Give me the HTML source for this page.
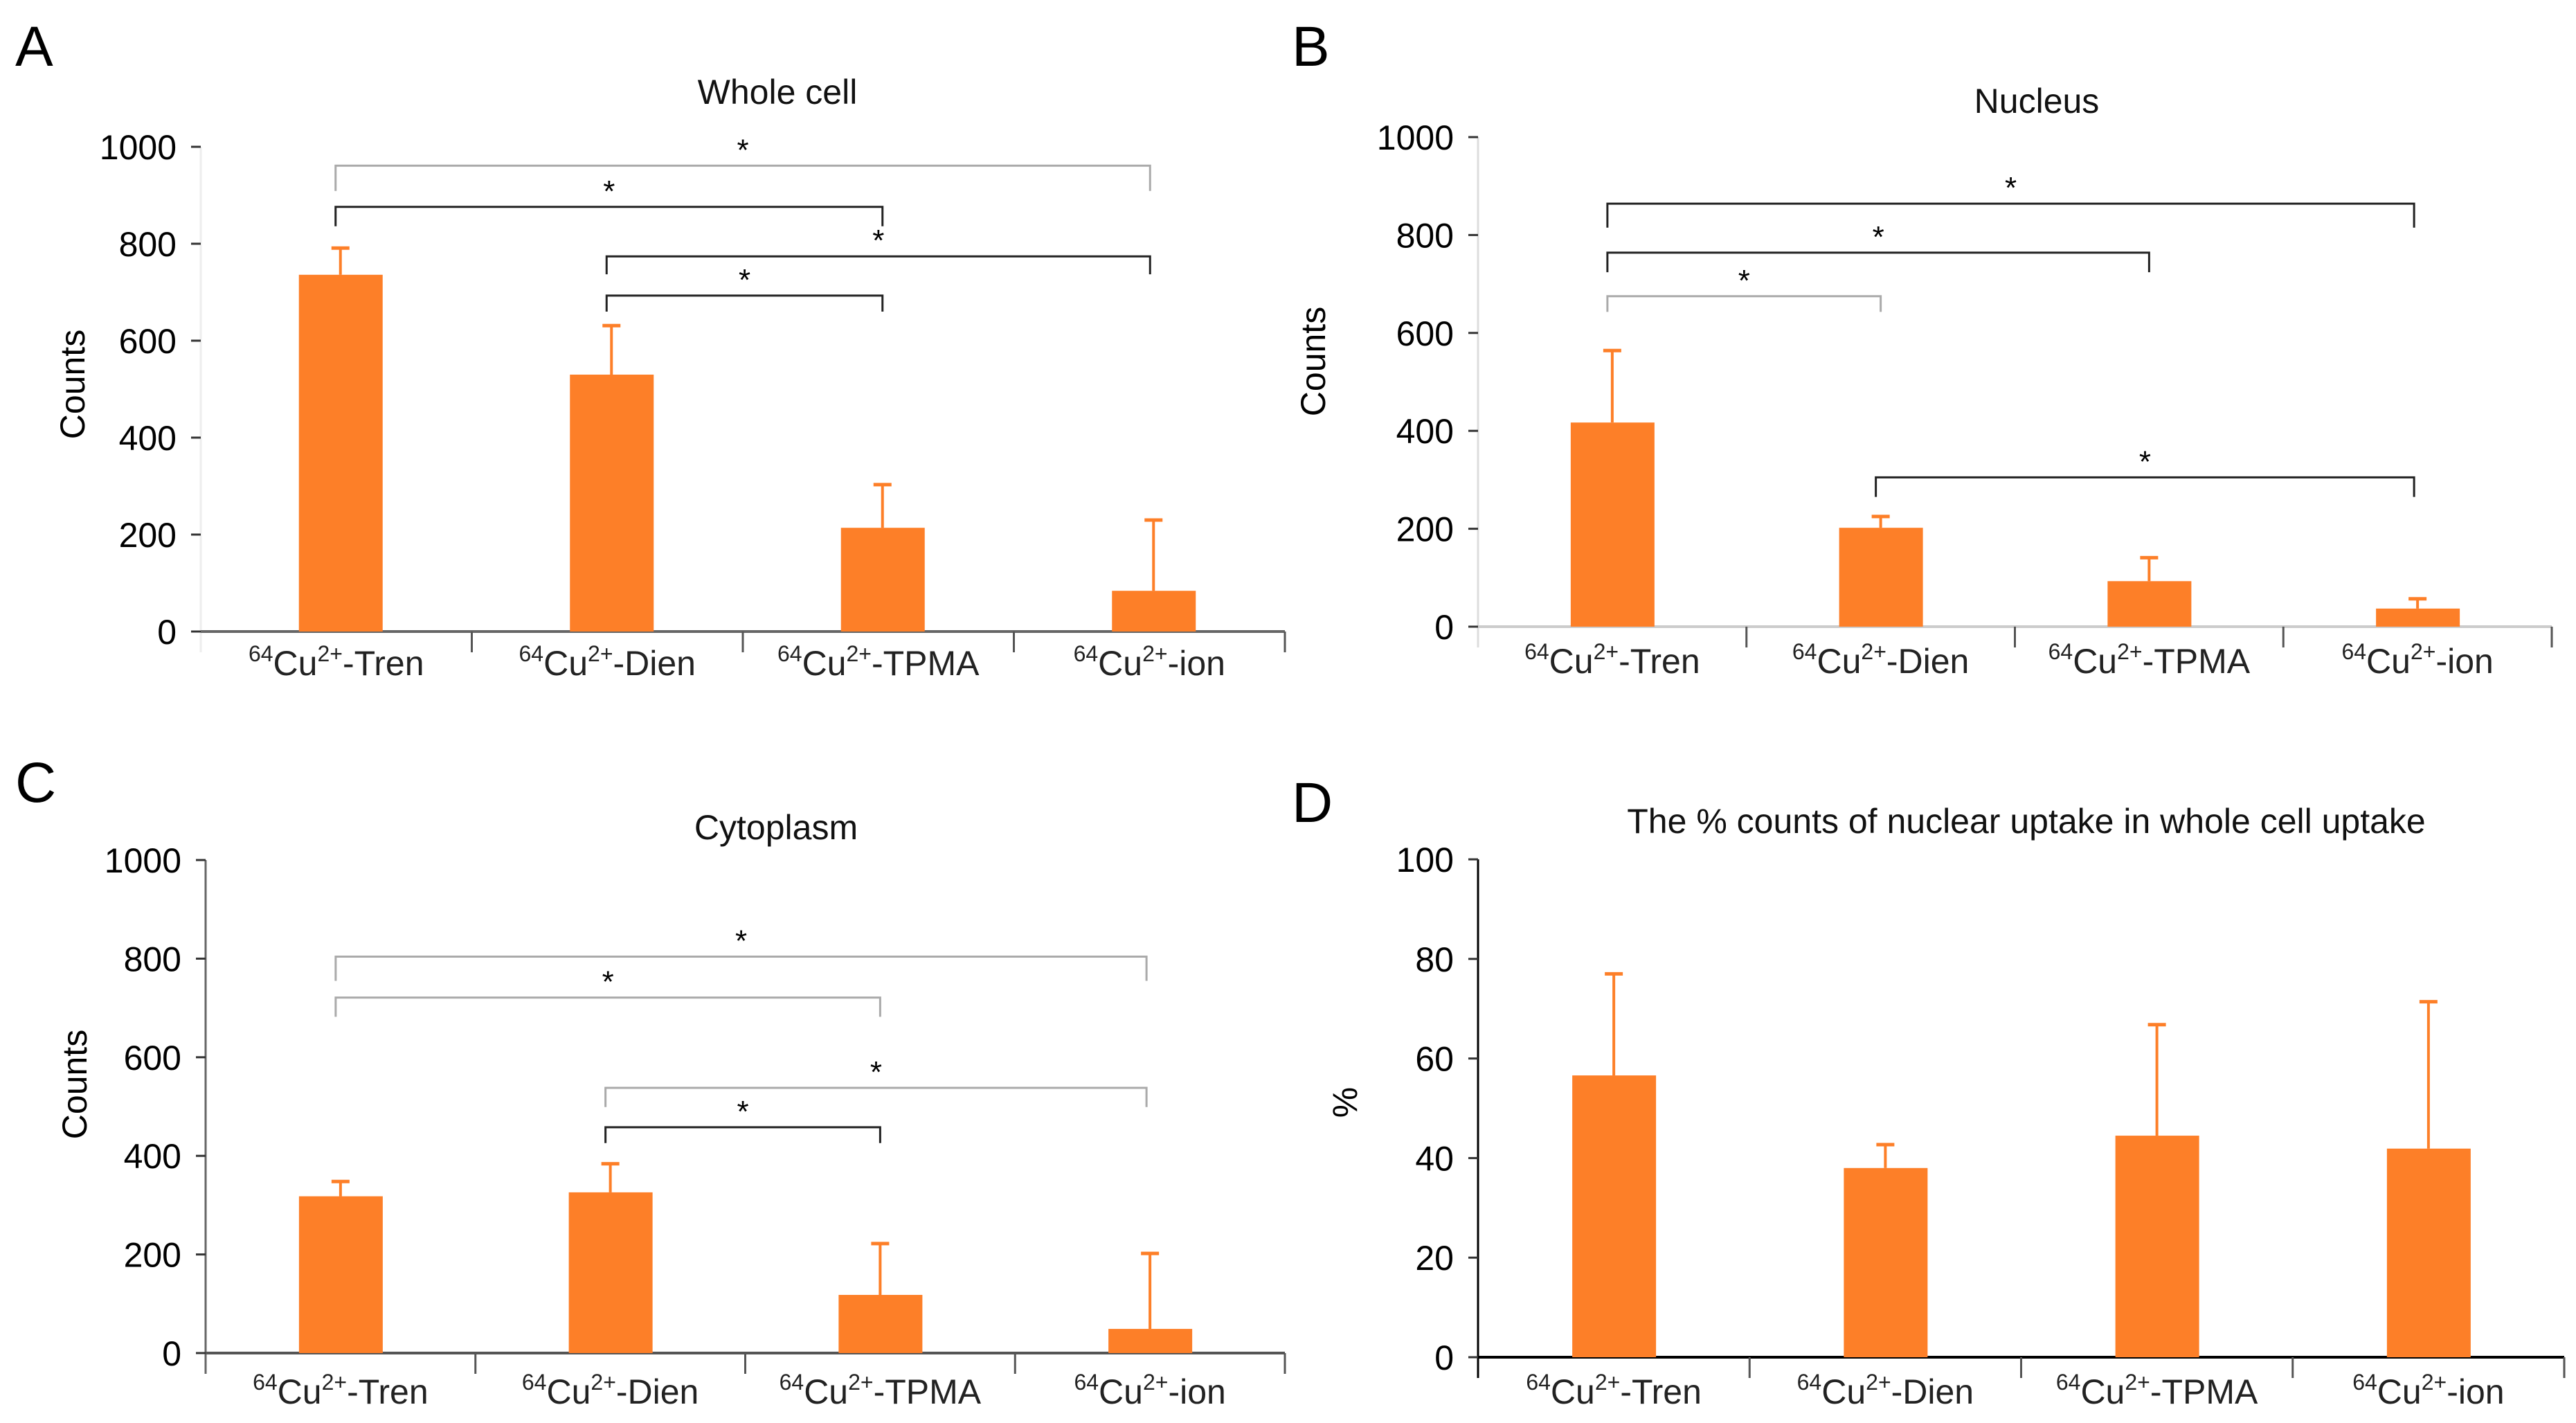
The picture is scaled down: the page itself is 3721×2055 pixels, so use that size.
<!DOCTYPE html>
<html><head><meta charset="utf-8">
<style>
html,body{margin:0;padding:0;background:#fff;}
svg{display:block;font-family:"Liberation Sans",Arial,sans-serif;}
</style></head>
<body>
<svg id="fig" width="3721" height="2055" viewBox="0 0 3721 2055" xmlns="http://www.w3.org/2000/svg"></svg>
<script>
const categories = ["Tren","Dien","TPMA","ion"];
const wholeVals = [736, 530, 214, 84];
const wholeErr = [791, 631, 303, 230];
const nucVals = [417, 202, 93, 37];
const nucErr = [564, 225, 141, 57];
const cytoVals = [318, 326, 118, 49];
const cytoErr = [348, 384, 222, 202];
const pctVals = [56.6, 38, 44.5, 41.9];
const pctErr = [77, 42.7, 66.8, 71.4];
const countTicks = [0,200,400,600,800,1000];
const pctTicks = [0,20,40,60,80,100];
// brackets: [fromCat, toCat, level value, drop value]
const wholeBr = [[0,3,961,909],[0,2,876,836],[1,3,774,737],[1,2,693,660]];
const nucBr = [[0,3,864,815],[0,2,764,724],[0,1,675,643],[1,3,305,265]];
const cytoBr = [[0,3,804,755],[0,2,721,682],[1,3,538,499],[1,2,458,426]];

const NS="http://www.w3.org/2000/svg";
const svg=document.getElementById('fig');
function mk(tag,attrs,parent){const e=document.createElementNS(NS,tag);for(const k in attrs)e.setAttribute(k,attrs[k]);(parent||svg).appendChild(e);return e;}

function panel(o){
  const g=mk('g',{});
  
  
  const y=v=>o.y0-(v/o.max)*(o.y0-o.y1);
  const cw=(o.x1-o.x0)/categories.length;
  const cx=i=>o.x0+cw*(i+0.5)+(o.dx||0);
  const L=mk('text',{x:o.lx,y:o.ly,'font-size':82,fill:'#000'},g);L.textContent=o.letter;
  
  
  const T=mk('text',{x:o.tx,y:o.ty,'font-size':50,'text-anchor':'middle',fill:'#111'},g);T.textContent=o.title;
  
  
  const Y=mk('text',{x:0,y:0,'font-size':50,'text-anchor':'middle',fill:'#000',transform:`translate(${o.yx},${o.yy}) rotate(-90)`},g);Y.textContent=o.ylabel;
  
  
  const ya=mk('line',{x1:o.x0,y1:o.y1,x2:o.x0,y2:o.y0+30,stroke:o.yaxisCol,'stroke-width':3},g);
  
  
  o.ticks.forEach(t=>{
    mk('line',{x1:o.x0-14,y1:y(t),x2:o.x0,y2:y(t),stroke:'#333','stroke-width':3},g);
    const tl=mk('text',{x:o.x0-35,y:y(t)+18,'font-size':50,'text-anchor':'end',fill:'#000'},g);tl.textContent=t;
    
    
  });
  const xa=mk('line',{x1:o.x0,y1:o.y0,x2:o.x1,y2:o.y0,stroke:o.xaxisCol,'stroke-width':4},g);
  
  
  for(let i=1;i<=categories.length;i++){
    mk('line',{x1:o.x0+cw*i,y1:o.y0,x2:o.x0+cw*i,y2:o.y0+30,stroke:'#555','stroke-width':3},g);
  }
  categories.forEach((c,i)=>{
    const bx=cx(i);
    const e=mk('line',{x1:bx,y1:y(o.vals[i]),x2:bx,y2:y(o.err[i]),stroke:'#fd7f28','stroke-width':4},g);
    
    
    mk('line',{x1:bx-13,y1:y(o.err[i]),x2:bx+13,y2:y(o.err[i]),stroke:'#fd7f28','stroke-width':5},g);
    const b=mk('rect',{x:bx-60,y:y(o.vals[i]),width:121,height:o.y0-y(o.vals[i]),fill:'#fd7f28'},g);
    
    
    const t=mk('text',{x:o.x0+cw*(i+0.5),y:o.labY,'font-size':50,'text-anchor':'middle',fill:'#222'},g);
    t.innerHTML=`<tspan font-size="32" dy="-20">64</tspan><tspan dy="20">Cu</tspan><tspan font-size="32" dy="-20">2+</tspan><tspan dy="20">-${c}</tspan>`;
    
    
  });
  (o.br||[]).forEach((b,k)=>{
    const xa_=cx(b[0])-7, xb=cx(b[1])+(b[1]===3?-5:0);
    const col=(o.light&&o.light.includes(k))?'#aaa':'#222';
    const p=mk('path',{d:`M${xa_} ${y(b[3])} V${y(b[2])} H${xb} V${y(b[3])}`,fill:'none',stroke:col,'stroke-width':3},g);
    
    
    const s=mk('text',{x:(xa_+xb)/2,y:y(b[2])-8,'font-size':44,'text-anchor':'middle',fill:'#000'},g);s.textContent='*';
    
    
  });
}

panel({name:'panel-a-whole-cell',letter:'A',lx:22,ly:95,title:'Whole cell',tx:1123,ty:150,ylabel:'Counts',yx:122,yy:555,
  x0:290,x1:1856,y0:912,y1:212,max:1000,ticks:countTicks,vals:wholeVals,err:wholeErr,labY:975,br:wholeBr,light:[0],
  yaxisCol:'#eee',xaxisCol:'#666',dx:6});
panel({name:'panel-b-nucleus',letter:'B',lx:1866,ly:95,title:'Nucleus',tx:2942,ty:163,ylabel:'Counts',yx:1914,yy:522,
  x0:2135,x1:3686,y0:905,y1:198,max:1000,ticks:countTicks,vals:nucVals,err:nucErr,labY:972,br:nucBr,light:[2],
  yaxisCol:'#ddd',xaxisCol:'#ccc',dx:0});
panel({name:'panel-c-cytoplasm',letter:'C',lx:22,ly:1158,title:'Cytoplasm',tx:1121,ty:1212,ylabel:'Counts',yx:125,yy:1566,
  x0:297,x1:1856,y0:1954,y1:1242,max:1000,ticks:countTicks,vals:cytoVals,err:cytoErr,labY:2027,br:cytoBr,light:[0,1,2],
  yaxisCol:'#666',xaxisCol:'#555',dx:0});
panel({name:'panel-d-nuclear-percent',letter:'D',lx:1866,ly:1187,title:'The % counts of nuclear uptake in whole cell uptake',tx:2927,ty:1203,ylabel:'%',yx:1960,yy:1592,
  x0:2135,x1:3704,y0:1960,y1:1241,max:100,ticks:pctTicks,vals:pctVals,err:pctErr,labY:2027,br:[],
  yaxisCol:'#000',xaxisCol:'#000',dx:0});
</script>
</body></html>
